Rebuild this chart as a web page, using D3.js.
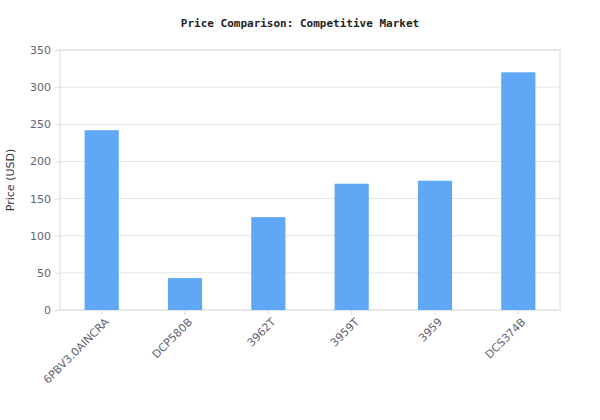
<!DOCTYPE html>
<html><head><meta charset="utf-8">
<script src="https://cdn.jsdelivr.net/npm/d3@7"></script>
<style>body{margin:0;background:#fff}</style>
</head><body>
<svg id="c" width="600" height="420"></svg>
<script>
const categories = ["6PBV3.0AINCRA","DCP580B","3962T","3959T","3959","DCS374B"];
const prices = [242, 43, 125, 170, 174, 320];
const yTicks = [0,50,100,150,200,250,300,350];

const svg = d3.select("#c");
const m = {l:60, r:40, t:50, b:110};
const W = 600, H = 420;
const x = d3.scaleBand().domain(categories).range([m.l, W-m.r]).paddingInner(0.59).paddingOuter(0.295);
const y = d3.scaleLinear().domain([0,350]).range([H-m.b, m.t]);

svg.append("g").selectAll("line").data(yTicks).join("line")
  .attr("x1", m.l).attr("x2", W-m.r).attr("y1", d=>y(d)).attr("y2", d=>y(d))
  .attr("stroke", "#e6e6e6");
svg.append("rect").attr("x", m.l).attr("y", m.t).attr("width", W-m.l-m.r).attr("height", H-m.t-m.b)
  .attr("fill","none").attr("stroke","#dcdcdc");

svg.append("g").selectAll("rect").data(prices).join("rect")
  .attr("x", (d,i)=>x(categories[i])).attr("width", x.bandwidth())
  .attr("y", d=>y(d)).attr("height", d=>y(0)-y(d)).attr("fill", "#60a8f5");

const ya = svg.append("g").attr("transform",`translate(${m.l},0)`)
  .call(d3.axisLeft(y).tickValues(yTicks).tickSize(5).tickPadding(4));
ya.select(".domain").remove();
ya.selectAll("line").attr("stroke","#dcdcdc");
ya.selectAll("text").attr("fill","#5f6473").style("font","11px 'DejaVu Sans'");

const xa = svg.append("g").attr("transform",`translate(0,${H-m.b})`)
  .call(d3.axisBottom(x).tickSize(5));
xa.select(".domain").remove();
xa.selectAll("line").attr("stroke","#dcdcdc");
xa.selectAll("text").attr("fill","#5f6473").style("font","11px 'DejaVu Sans'")
  .attr("text-anchor","end").attr("dx","-0.3em").attr("dy","0.6em")
  .attr("transform","rotate(-45)");

svg.append("text").attr("x", 300).attr("y", 27).attr("text-anchor","middle")
  .style("font","bold 11px 'DejaVu Sans Mono'").attr("fill","#222").text("Price Comparison: Competitive Market");
svg.append("text").attr("transform","translate(14,180) rotate(-90)").attr("text-anchor","middle")
  .style("font","11px 'DejaVu Sans'").attr("fill","#333").text("Price (USD)");
</script>
</body></html>
